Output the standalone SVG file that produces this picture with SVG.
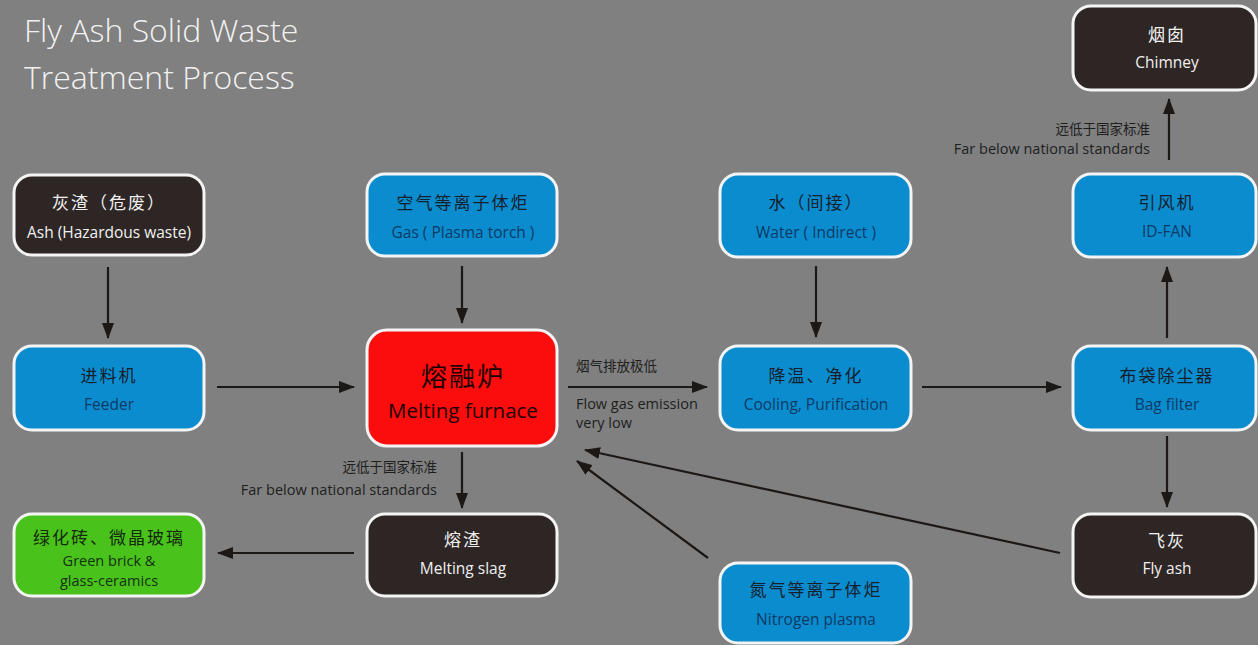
<svg xmlns="http://www.w3.org/2000/svg" width="1258" height="645" viewBox="0 0 1258 645">
<defs>
<marker id="ah" viewBox="0 0 16 12" refX="15" refY="6" markerWidth="16" markerHeight="12" markerUnits="userSpaceOnUse" orient="auto">
<path d="M0,0 L16,6 L0,12 Z" fill="#1c1816"/>
</marker>
<style>
.box{stroke:#f4f4f4;stroke-width:3}
.dark{fill:#2e2624}
.blue{fill:#0a8cce}
.red{fill:#fb0d0d}
.green{fill:#4ac21c}
.zh{font-family:"Noto Sans CJK SC",sans-serif;font-size:17px;text-anchor:middle;letter-spacing:2px}
.en{font-family:"Open Sans","Liberation Sans",sans-serif;font-size:15.5px;text-anchor:middle}
.lt{fill:#f0f0f0}
.dk{fill:#14202c}
.dkb{fill:#0c3a66}
.lbl{font-family:"Open Sans","Liberation Sans",sans-serif;font-size:14.5px;fill:#1e1e1e}
.lblzh{font-family:"Noto Sans CJK SC",sans-serif;font-size:13.5px;fill:#1e1e1e}
.con{stroke:#1c1816;stroke-width:2.2;fill:none;marker-end:url(#ah)}
</style>
</defs>
<rect width="1258" height="645" fill="#808080"/>
<g id="title" font-family="Open Sans, Liberation Sans, sans-serif" font-size="32" font-weight="300" fill="#f2f2f2">
<text x="24" y="42">Fly Ash Solid Waste</text>
<text x="24" y="89">Treatment Process</text>
</g>
<g id="connectors">
<line class="con" x1="108" y1="267" x2="108" y2="338"/>
<line class="con" x1="462" y1="266" x2="462" y2="323"/>
<line class="con" x1="217" y1="387" x2="354" y2="387"/>
<line class="con" x1="568" y1="387" x2="707" y2="387"/>
<line class="con" x1="816" y1="266" x2="816" y2="337"/>
<line class="con" x1="922" y1="387" x2="1061" y2="387"/>
<line class="con" x1="1167" y1="338" x2="1167" y2="267"/>
<line class="con" x1="1169" y1="160" x2="1169" y2="99"/>
<line class="con" x1="1167" y1="436" x2="1167" y2="507"/>
<line class="con" x1="462" y1="452" x2="462" y2="508"/>
<line class="con" x1="354" y1="553" x2="218" y2="553"/>
<line class="con" x1="708" y1="558" x2="577" y2="461"/>
<line class="con" x1="1060" y1="553" x2="585" y2="450"/>
<text class="lblzh" x="576" y="371">烟气排放极低</text>
<text class="lbl" x="576" y="409">Flow gas emission</text>
<text class="lbl" x="576" y="428">very low</text>
<text class="lblzh" x="1150" y="134" text-anchor="end">远低于国家标准</text>
<text class="lbl" x="1150" y="154" text-anchor="end">Far below national standards</text>
<text class="lblzh" x="437" y="472" text-anchor="end">远低于国家标准</text>
<text class="lbl" x="437" y="495" text-anchor="end">Far below national standards</text>
</g>
<g id="ash">
<rect class="box dark" x="14" y="175" width="190" height="80" rx="18"/>
<text class="zh lt" x="109" y="209">灰渣（危废）</text>
<text class="en lt" x="109" y="238">Ash (Hazardous waste)</text>
</g>
<g id="gas">
<rect class="box blue" x="367" y="174" width="190" height="82" rx="18"/>
<text class="zh dk" x="463" y="209">空气等离子体炬</text>
<text class="en dkb" x="463" y="238">Gas ( Plasma torch )</text>
</g>
<g id="water">
<rect class="box blue" x="720" y="174" width="191" height="83" rx="18"/>
<text class="zh dk" x="816" y="209">水（间接）</text>
<text class="en dkb" x="816" y="238">Water ( Indirect )</text>
</g>
<g id="chimney">
<rect class="box dark" x="1073" y="6" width="183" height="84" rx="18"/>
<text class="zh lt" x="1167" y="41">烟囱</text>
<text class="en lt" x="1167" y="68">Chimney</text>
</g>
<g id="idfan">
<rect class="box blue" x="1073" y="174" width="183" height="83" rx="18"/>
<text class="zh dk" x="1167" y="209">引风机</text>
<text class="en dkb" x="1167" y="237">ID-FAN</text>
</g>
<g id="feeder">
<rect class="box blue" x="14" y="346" width="190" height="84" rx="18"/>
<text class="zh dk" x="109" y="382">进料机</text>
<text class="en dkb" x="109" y="410">Feeder</text>
</g>
<g id="furnace">
<rect class="box red" x="367" y="330" width="190" height="116" rx="20"/>
<text class="zh" x="463" y="386" style="font-size:26px;fill:#1a0000">熔融炉</text>
<text class="en" x="463" y="418" style="font-size:20.5px;fill:#1a0000">Melting furnace</text>
</g>
<g id="cooling">
<rect class="box blue" x="720" y="346" width="191" height="84" rx="18"/>
<text class="zh dk" x="816" y="382">降温、净化</text>
<text class="en dkb" x="816" y="410">Cooling, Purification</text>
</g>
<g id="bagfilter">
<rect class="box blue" x="1073" y="346" width="183" height="84" rx="18"/>
<text class="zh dk" x="1167" y="382">布袋除尘器</text>
<text class="en dkb" x="1167" y="410">Bag filter</text>
</g>
<g id="green">
<rect class="box green" x="14" y="514" width="190" height="82" rx="18"/>
<text class="zh" x="109" y="544" fill="#142a0a">绿化砖、微晶玻璃</text>
<text class="en" x="109" y="566" style="font-size:14.5px;fill:#143010">Green brick &amp;</text>
<text class="en" x="109" y="586" style="font-size:14.5px;fill:#143010">glass-ceramics</text>
</g>
<g id="slag">
<rect class="box dark" x="367" y="514" width="190" height="82" rx="18"/>
<text class="zh lt" x="463" y="546">熔渣</text>
<text class="en lt" x="463" y="574">Melting slag</text>
</g>
<g id="flyash">
<rect class="box dark" x="1073" y="514" width="183" height="83" rx="18"/>
<text class="zh lt" x="1167" y="547">飞灰</text>
<text class="en lt" x="1167" y="574">Fly ash</text>
</g>
<g id="nitrogen">
<rect class="box blue" x="720" y="563" width="191" height="80" rx="18"/>
<text class="zh dk" x="816" y="596">氮气等离子体炬</text>
<text class="en dkb" x="816" y="625">Nitrogen plasma</text>
</g>
</svg>
